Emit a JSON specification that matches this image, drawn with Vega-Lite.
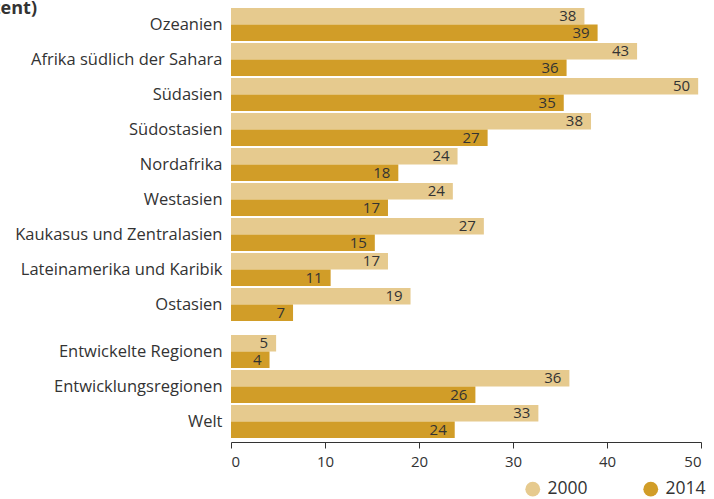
{
  "$schema": "https://vega.github.io/schema/vega-lite/v6.json",
  "autosize": {"type": "none"},
  "padding": {"left": 231, "top": 7, "right": 483, "bottom": 492},
  "background": "white",
  "datasets": {
    "d": [
      {"region": "Ozeanien", "group": "A", "year": "2000", "value": 37.6},
      {"region": "Ozeanien", "group": "A", "year": "2014", "value": 39.0},
      {"region": "Afrika südlich der Sahara", "group": "A", "year": "2000", "value": 43.2},
      {"region": "Afrika südlich der Sahara", "group": "A", "year": "2014", "value": 35.7},
      {"region": "Südasien", "group": "A", "year": "2000", "value": 49.7},
      {"region": "Südasien", "group": "A", "year": "2014", "value": 35.4},
      {"region": "Südostasien", "group": "A", "year": "2000", "value": 38.3},
      {"region": "Südostasien", "group": "A", "year": "2014", "value": 27.3},
      {"region": "Nordafrika", "group": "A", "year": "2000", "value": 24.1},
      {"region": "Nordafrika", "group": "A", "year": "2014", "value": 17.8},
      {"region": "Westasien", "group": "A", "year": "2000", "value": 23.6},
      {"region": "Westasien", "group": "A", "year": "2014", "value": 16.7},
      {"region": "Kaukasus und Zentralasien", "group": "A", "year": "2000", "value": 26.9},
      {"region": "Kaukasus und Zentralasien", "group": "A", "year": "2014", "value": 15.3},
      {"region": "Lateinamerika und Karibik", "group": "A", "year": "2000", "value": 16.7},
      {"region": "Lateinamerika und Karibik", "group": "A", "year": "2014", "value": 10.6},
      {"region": "Ostasien", "group": "A", "year": "2000", "value": 19.1},
      {"region": "Ostasien", "group": "A", "year": "2014", "value": 6.6},
      {"region": "Entwickelte Regionen", "group": "B", "year": "2000", "value": 4.8},
      {"region": "Entwickelte Regionen", "group": "B", "year": "2014", "value": 4.1},
      {"region": "Entwicklungsregionen", "group": "B", "year": "2000", "value": 36.0},
      {"region": "Entwicklungsregionen", "group": "B", "year": "2014", "value": 26.0},
      {"region": "Welt", "group": "B", "year": "2000", "value": 32.7},
      {"region": "Welt", "group": "B", "year": "2014", "value": 23.8}
    ]
  },
  "config": {
    "font": "Open Sans",
    "view": {"stroke": null},
    "axis": {"labelFont": "Open Sans", "labelColor": "#333333", "grid": false, "title": null},
    "concat": {"spacing": 12}
  },
  "vconcat": [
    {
      "width": 470,
      "height": 315,
      "title": {"text": "Anteil der Kinder unter fünf Jahren mit Wachstumsverzögerungen (in Prozent)", "anchor": "start", "frame": "group", "align": "right", "dx": -194, "dy": 11, "offset": 0, "fontSize": 18, "fontWeight": "bold", "color": "#333333", "font": "Open Sans"},
      "data": {"name": "d"},
      "transform": [{"filter": "datum.group === 'A'"}],
      "encoding": {
        "y": {"field": "region", "type": "nominal", "sort": null, "scale": {"paddingInner": 0.057, "paddingOuter": 0.0285}, "axis": {"domain": false, "ticks": false, "labelFontSize": 16.5, "labelPadding": 9, "labelLimit": 400, "title": null}},
        "yOffset": {"field": "year", "type": "nominal", "sort": "ascending", "scale": {"paddingInner": 0, "paddingOuter": 0}},
        "x": {"field": "value", "type": "quantitative", "scale": {"domain": [0, 50], "nice": false}, "axis": null}
      },
      "layer": [
        {"mark": {"type": "bar"}, "encoding": {"color": {"field": "year", "type": "nominal", "scale": {"domain": ["2000", "2014"], "range": ["#E6CA8E", "#D19D28"]}, "legend": {"orient": "none", "direction": "horizontal", "legendX": 293, "legendY": 473, "title": null, "symbolType": "circle", "symbolSize": 220, "labelFontSize": 17.5, "labelColor": "#333333", "labelFont": "Open Sans", "columnPadding": 54, "labelOffset": 6, "symbolStrokeWidth": 0}}}},
        {"mark": {"type": "text", "align": "right", "dx": -8, "fontSize": 15, "color": "#333333", "baseline": "middle"}, "encoding": {"text": {"field": "value", "type": "quantitative", "format": ".0f"}}}
      ]
    },
    {
      "width": 470,
      "height": 105,
      "data": {"name": "d"},
      "transform": [{"filter": "datum.group === 'B'"}],
      "encoding": {
        "y": {"field": "region", "type": "nominal", "sort": null, "scale": {"paddingInner": 0.057, "paddingOuter": 0.0285}, "axis": {"domain": false, "ticks": false, "labelFontSize": 16.5, "labelPadding": 9, "labelLimit": 400, "title": null}},
        "yOffset": {"field": "year", "type": "nominal", "sort": "ascending", "scale": {"paddingInner": 0, "paddingOuter": 0}},
        "x": {"field": "value", "type": "quantitative", "scale": {"domain": [0, 50], "nice": false}, "axis": {"values": [0, 10, 20, 30, 40, 50], "offset": 3, "domainColor": "#333333", "domainWidth": 1.2, "tickColor": "#333333", "tickSize": 6, "labelFontSize": 15, "labelPadding": 6, "title": null}}
      },
      "layer": [
        {"mark": {"type": "bar"}, "encoding": {"color": {"field": "year", "type": "nominal", "scale": {"domain": ["2000", "2014"], "range": ["#E6CA8E", "#D19D28"]}}}},
        {"mark": {"type": "text", "align": "right", "dx": -8, "fontSize": 15, "color": "#333333", "baseline": "middle"}, "encoding": {"text": {"field": "value", "type": "quantitative", "format": ".0f"}}}
      ]
    }
  ]
}
